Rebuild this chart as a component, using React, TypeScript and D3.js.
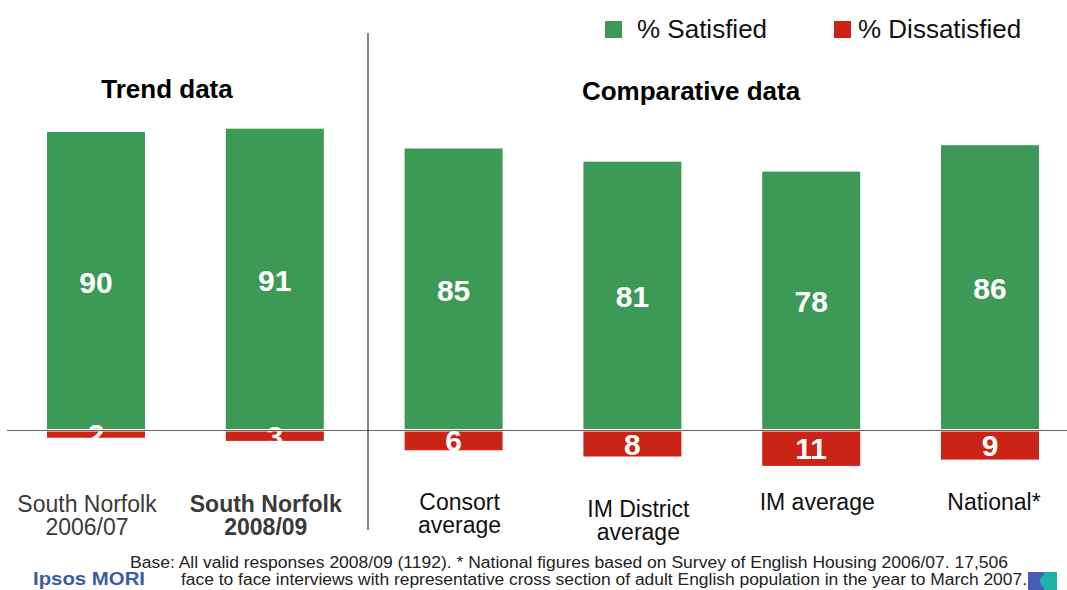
import React from "react";
import * as d3 from "d3";

const categories = ["South Norfolk 2006/07", "South Norfolk 2008/09", "Consort average", "IM District average", "IM average", "National*"];
const labelLines = [["South Norfolk", "2006/07"], ["South Norfolk", "2008/09"], ["Consort", "average"], ["IM District", "average"], ["IM average"], ["National*"]];
const satisfied = [90, 91, 85, 81, 78, 86];
const dissatisfied = [2, 3, 6, 8, 11, 9];

const GREEN = "#3d9956";
const RED = "#cc2317";
const FONT = "'Liberation Sans', Arial, sans-serif";

export default function App() {
  const W = 1067, H = 590;
  const x = d3.scalePoint<string>().domain(categories).range([96, 990]);
  const barW = 98;
  const base = 430.5;
  const yUp = d3.scaleLinear().domain([0, 100]).range([base - 1.5, base - 1.5 - 330]);
  const yDown = d3.scaleLinear().domain([0, 20]).range([base + 1, base + 1 + 62.5]);

  const labelY = [[512, 535], [512, 535], [510, 533], [517, 540], [510], [510]];
  const labelDx = [-9, -9, 6, 6, 6, 4];

  return (
    <svg width={W} height={H} style={{ position: "absolute", left: 0, top: 0, background: "#fff" }} fontFamily={FONT}>
      {/* legend */}
      <rect x={605} y={21} width={17} height={17} fill={GREEN} />
      <text x={637} y={38} fontSize={26} fill="#111">% Satisfied</text>
      <rect x={834} y={21} width={17} height={17} fill={RED} />
      <text x={858} y={38} fontSize={26} fill="#111">% Dissatisfied</text>

      {/* headings */}
      <text x={167} y={98} fontSize={26} fontWeight="bold" textAnchor="middle" fill="#000">Trend data</text>
      <text x={691} y={100} fontSize={26} fontWeight="bold" textAnchor="middle" fill="#000">Comparative data</text>

      {/* bars */}
      {categories.map((c, i) => {
        const cx = x(c)!;
        const gTop = yUp(satisfied[i]);
        const gBot = yUp(0);
        const rTop = yDown(0);
        const rBot = yDown(dissatisfied[i]);
        return (
          <g key={c}>
            <rect x={cx - barW / 2} y={gTop} width={barW} height={gBot - gTop} fill={GREEN} />
            <rect x={cx - barW / 2} y={rTop} width={barW} height={rBot - rTop} fill={RED} />
          </g>
        );
      })}
      {/* value labels */}
      {categories.map((c, i) => {
        const cx = x(c)!;
        const gMid = (yUp(satisfied[i]) + yUp(0)) / 2;
        const rMid = (yDown(0) + yDown(dissatisfied[i])) / 2;
        return (
          <g key={c + "l"} fill="#fff" fontWeight="bold" fontSize={30} textAnchor="middle">
            <text x={cx} y={gMid + 12}>{satisfied[i]}</text>
            <text x={cx} y={rMid + 10.5}>{dissatisfied[i]}</text>
          </g>
        );
      })}

      {/* baseline and divider */}
      <line x1={7} x2={1067} y1={base} y2={base} stroke="#666" strokeWidth={1.2} />
      <line x1={368} x2={368} y1={33} y2={530} stroke="#333" strokeWidth={1.2} />

      {/* category labels */}
      {categories.map((c, i) => (
        <text key={c + "c"} textAnchor="middle" fontSize={23}
          fill={i < 2 ? "#3a3a3a" : "#111"} fontWeight={i === 1 ? "bold" : "normal"}>
          {labelLines[i].map((ln, j) => (
            <tspan key={j} x={x(c)! + labelDx[i]} y={labelY[i][j]}>{ln}</tspan>
          ))}
        </text>
      ))}

      {/* footer */}
      <text x={130} y={568} fontSize={16} fill="#222" textLength={878} lengthAdjust="spacingAndGlyphs">Base: All valid responses 2008/09 (1192). * National figures based on Survey of English Housing 2006/07. 17,506</text>
      <text x={181} y={585} fontSize={16} fill="#222" textLength={846} lengthAdjust="spacingAndGlyphs">face to face interviews with representative cross section of adult English population in the year to March 2007.</text>
      <text x={33} y={585} fontSize={19} fontWeight="bold" fill="#3b5ba9" textLength={112} lengthAdjust="spacingAndGlyphs">Ipsos MORI</text>
      <rect x={1028} y={572} width={16} height={18} fill="#4a5ab8" />
      <rect x={1044} y={572} width={13} height={18} fill="#1fb0a8" />
      <ellipse cx={1044} cy={581} rx={4} ry={6} fill="#1fb0a8" />
    </svg>
  );
}
